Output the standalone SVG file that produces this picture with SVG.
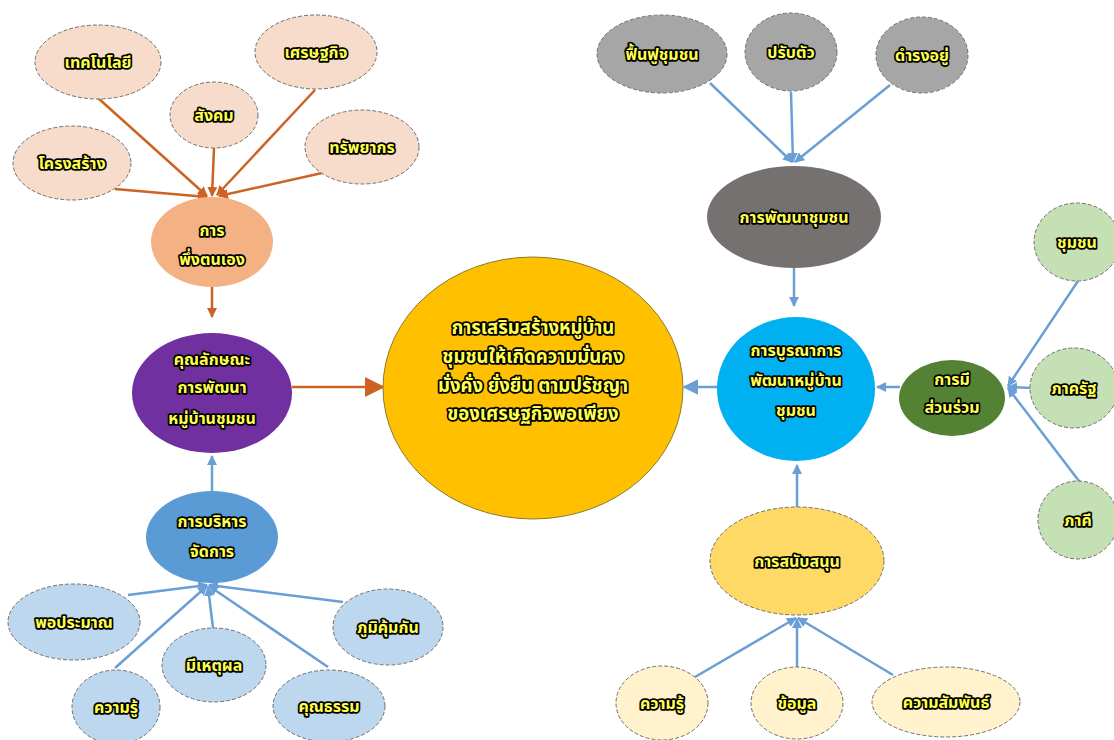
<svg xmlns="http://www.w3.org/2000/svg" width="1114" height="740" viewBox="0 0 1114 740">
<defs>
<style>
.n{stroke:#6f6f6f;stroke-width:1;stroke-dasharray:4 2}
.t{font-family:"Noto Sans Thai","Noto Sans","DejaVu Sans",sans-serif;font-weight:bold;font-size:16px;fill:#FFFF4D;stroke:#000;stroke-width:3.5px;stroke-linejoin:round;paint-order:stroke;text-anchor:middle}
.c{font-size:18.5px}
.o{stroke:#CC6322;stroke-width:2.5;fill:none}
.b{stroke:#6A9FD6;stroke-width:2.5;fill:none}
</style>
<marker id="ao" viewBox="0 0 10 10" refX="9" refY="5" markerWidth="10" markerHeight="10" markerUnits="userSpaceOnUse" orient="auto"><path d="M0,0 L10,5 L0,10 z" fill="#CC6322"/></marker>
<marker id="aoL" viewBox="0 0 10 10" refX="9" refY="5" markerWidth="20" markerHeight="20" markerUnits="userSpaceOnUse" orient="auto"><path d="M0,0 L10,5 L0,10 z" fill="#CC6322"/></marker>
<marker id="ab" viewBox="0 0 10 10" refX="9" refY="5" markerWidth="10" markerHeight="10" markerUnits="userSpaceOnUse" orient="auto"><path d="M0,0 L10,5 L0,10 z" fill="#6A9FD6"/></marker>
<marker id="abL" viewBox="0 0 10 10" refX="9" refY="5" markerWidth="16" markerHeight="16" markerUnits="userSpaceOnUse" orient="auto"><path d="M0,0 L10,5 L0,10 z" fill="#6A9FD6"/></marker>
</defs>
<rect width="1114" height="740" fill="#fff"/>
<g id="connectors">
<line class="o" x1="98" y1="98" x2="207" y2="196" marker-end="url(#ao)"/>
<line class="o" x1="214" y1="148" x2="212" y2="196" marker-end="url(#ao)"/>
<line class="o" x1="315" y1="90" x2="217" y2="195" marker-end="url(#ao)"/>
<line class="o" x1="322" y1="173" x2="219" y2="196" marker-end="url(#ao)"/>
<line class="o" x1="115" y1="189" x2="207" y2="197" marker-end="url(#ao)"/>
<line class="o" x1="212" y1="287" x2="212" y2="317" marker-end="url(#ao)"/>
<line class="o" x1="292" y1="387" x2="383" y2="387" stroke-width="5" marker-end="url(#aoL)"/>
<line class="b" x1="212" y1="491" x2="212" y2="456" marker-end="url(#ab)"/>
<line class="b" x1="128" y1="595" x2="207" y2="585" marker-end="url(#ab)"/>
<line class="b" x1="115" y1="668" x2="207" y2="586" marker-end="url(#ab)"/>
<line class="b" x1="213" y1="628" x2="208" y2="587" marker-end="url(#ab)"/>
<line class="b" x1="343" y1="602" x2="209" y2="585" marker-end="url(#ab)"/>
<line class="b" x1="328" y1="667" x2="209" y2="586" marker-end="url(#ab)"/>
<line class="b" x1="710" y1="83" x2="792" y2="162" marker-end="url(#ab)"/>
<line class="b" x1="791" y1="92" x2="793" y2="162" marker-end="url(#ab)"/>
<line class="b" x1="890" y1="85" x2="795" y2="162" marker-end="url(#ab)"/>
<line class="b" x1="794" y1="268" x2="794" y2="306" marker-end="url(#ab)"/>
<line class="b" x1="718" y1="387" x2="684" y2="387" stroke-width="5" marker-end="url(#abL)"/>
<line class="b" x1="900" y1="387" x2="877" y2="387" stroke-width="4" marker-end="url(#ab)"/>
<line class="b" x1="1078" y1="281" x2="1008" y2="386" marker-end="url(#ab)"/>
<line class="b" x1="1032" y1="388" x2="1008" y2="387" stroke-width="4" marker-end="url(#ab)"/>
<line class="b" x1="1082" y1="485" x2="1008" y2="388" marker-end="url(#ab)"/>
<line class="b" x1="797" y1="507" x2="797" y2="465" marker-end="url(#ab)"/>
<line class="b" x1="695" y1="677" x2="796" y2="618" marker-end="url(#ab)"/>
<line class="b" x1="797" y1="667" x2="797" y2="619" marker-end="url(#ab)"/>
<line class="b" x1="893" y1="675" x2="798" y2="618" marker-end="url(#ab)"/>
</g>
<g id="n-tech"><ellipse class="n" cx="98" cy="62" rx="63" ry="37" fill="#F8DCCB"/><text class="t" x="98" y="68">เทคโนโลยี</text></g>
<g id="n-social"><ellipse class="n" cx="214" cy="115" rx="44" ry="33" fill="#F8DCCB"/><text class="t" x="214" y="121">สังคม</text></g>
<g id="n-econ"><ellipse class="n" cx="316" cy="52" rx="61" ry="37" fill="#F8DCCB"/><text class="t" x="316" y="58">เศรษฐกิจ</text></g>
<g id="n-struct"><ellipse class="n" cx="72" cy="163" rx="59" ry="37" fill="#F8DCCB"/><text class="t" x="72" y="169">โครงสร้าง</text></g>
<g id="n-resource"><ellipse class="n" cx="362" cy="147" rx="57" ry="37" fill="#F8DCCB"/><text class="t" x="362" y="153">ทรัพยากร</text></g>
<g id="n-selfreliance"><ellipse cx="212" cy="242" rx="61" ry="45" fill="#F4B183"/><text class="t" x="212" y="236">การ</text><text class="t" x="212" y="265">พึ่งตนเอง</text></g>
<g id="n-quality"><ellipse cx="212" cy="393" rx="80" ry="60" fill="#7030A0"/><text class="t" x="212" y="365">คุณลักษณะ</text><text class="t" x="212" y="393">การพัฒนา</text><text class="t" x="212" y="424">หมู่บ้านชุมชน</text></g>
<g id="n-manage"><ellipse cx="212" cy="537" rx="66" ry="46" fill="#5B9BD5"/><text class="t" x="212" y="527">การบริหาร</text><text class="t" x="212" y="557">จัดการ</text></g>
<g id="n-moderate"><ellipse class="n" cx="74" cy="622" rx="66" ry="38" fill="#BDD7EE"/><text class="t" x="74" y="628">พอประมาณ</text></g>
<g id="n-knowledge1"><ellipse class="n" cx="116" cy="707" rx="44" ry="37" fill="#BDD7EE"/><text class="t" x="116" y="713">ความรู้</text></g>
<g id="n-reason"><ellipse class="n" cx="214" cy="665" rx="52" ry="37" fill="#BDD7EE"/><text class="t" x="214" y="671">มีเหตุผล</text></g>
<g id="n-immunity"><ellipse class="n" cx="388" cy="627" rx="55" ry="38" fill="#BDD7EE"/><text class="t" x="388" y="633">ภูมิคุ้มกัน</text></g>
<g id="n-virtue"><ellipse class="n" cx="329" cy="706" rx="56" ry="36" fill="#BDD7EE"/><text class="t" x="329" y="712">คุณธรรม</text></g>
<g id="n-center"><ellipse cx="533" cy="388" rx="150" ry="131" fill="#FFC000" stroke="#8a7a30" stroke-width="1"/><text class="t c" x="533" y="334">การเสริมสร้างหมู่บ้าน</text><text class="t c" x="533" y="363">ชุมชนให้เกิดความมั่นคง</text><text class="t c" x="533" y="392">มั่งคั่ง ยั่งยืน ตามปรัชญา</text><text class="t c" x="533" y="420">ของเศรษฐกิจพอเพียง</text></g>
<g id="n-revive"><ellipse class="n" cx="662" cy="54" rx="65" ry="39" fill="#A6A6A6"/><text class="t" x="662" y="60">ฟื้นฟูชุมชน</text></g>
<g id="n-adapt"><ellipse class="n" cx="791" cy="52" rx="46" ry="39" fill="#A6A6A6"/><text class="t" x="791" y="58">ปรับตัว</text></g>
<g id="n-exist"><ellipse class="n" cx="922" cy="55" rx="46" ry="38" fill="#A6A6A6"/><text class="t" x="922" y="61">ดำรงอยู่</text></g>
<g id="n-commdev"><ellipse cx="794" cy="217" rx="87" ry="51" fill="#767171"/><text class="t" x="794" y="223">การพัฒนาชุมชน</text></g>
<g id="n-integrate"><ellipse cx="796" cy="389" rx="79" ry="72" fill="#00B0F0"/><text class="t" x="796" y="356">การบูรณาการ</text><text class="t" x="796" y="386">พัฒนาหมู่บ้าน</text><text class="t" x="796" y="416">ชุมชน</text></g>
<g id="n-particip"><ellipse cx="952" cy="398" rx="53" ry="38" fill="#548235"/><text class="t" x="952" y="385">การมี</text><text class="t" x="952" y="413">ส่วนร่วม</text></g>
<g id="n-community"><ellipse class="n" cx="1077" cy="242" rx="43" ry="39" fill="#C5E0B4"/><text class="t" x="1077" y="248">ชุมชน</text></g>
<g id="n-state"><ellipse class="n" cx="1074" cy="388" rx="44" ry="40" fill="#C5E0B4"/><text class="t" x="1074" y="394">ภาครัฐ</text></g>
<g id="n-partner"><ellipse class="n" cx="1078" cy="520" rx="40" ry="39" fill="#C5E0B4"/><text class="t" x="1078" y="526">ภาคี</text></g>
<g id="n-support"><ellipse class="n" cx="797" cy="561" rx="87" ry="54" fill="#FFD966"/><text class="t" x="797" y="567">การสนับสนุน</text></g>
<g id="n-knowledge2"><ellipse class="n" cx="662" cy="703" rx="46" ry="37" fill="#FFF2CC"/><text class="t" x="662" y="709">ความรู้</text></g>
<g id="n-data"><ellipse class="n" cx="797" cy="703" rx="46" ry="36" fill="#FFF2CC"/><text class="t" x="797" y="709">ข้อมูล</text></g>
<g id="n-relation"><ellipse class="n" cx="946" cy="702" rx="74" ry="35" fill="#FFF2CC"/><text class="t" x="946" y="708">ความสัมพันธ์</text></g>
</svg>
